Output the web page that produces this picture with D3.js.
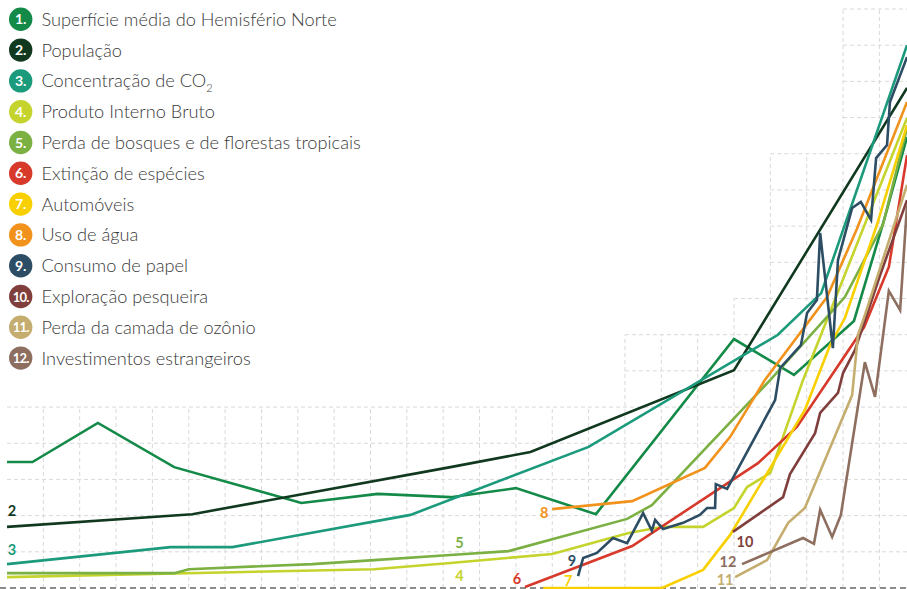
<!DOCTYPE html>
<html><head><meta charset="utf-8">
<script src="https://cdn.jsdelivr.net/npm/d3@7"></script>
<style>
body{margin:0;background:#fff;}
svg{display:block;font-family:Lato,"Noto Sans",sans-serif;}
</style></head><body>
<svg id="chart" width="907" height="589"></svg>
<script>
// ---- data (years, index values) ----
const seriesNames = [
  "Superfície média do Hemisfério Norte","População","Concentração de CO","Produto Interno Bruto",
  "Perda de bosques e de florestas tropicais","Extinção de espécies","Automóveis","Uso de água",
  "Consumo de papel","Exploração pesqueira","Perda da camada de ozônio","Investimentos estrangeiros"];
const seriesNumbers = ["1","2","3","4","5","6","7","8","9","10","11","12"];

const superficie = [[1750,34.8],[1757,34.8],[1775,45.6],[1796,33.4],[1831,23.5],[1852,26.0],[1872,25.1],[1890,27.6],[1912,20.4],[1950,68.8],[1966.5,58.9],[1983,73.8],[1991.3,101.7],[1997.6,124.6]];
const populacao = [[1750,16.9],[1801,20.4],[1872,33.4],[1894,37.6],[1950,60.2],[1997.6,138.2]];
const co2 = [[1750,6.6],[1795,11.3],[1812,11.3],[1861,20.2],[1910,39.0],[1962,69.9],[1974,81.5],[1997.6,150.0]];
const pib = [[1750,3.0],[1851,5.2],[1872,6.9],[1900,9.4],[1921,15.2],[1930.5,16.9],[1941.5,16.9],[1950,22.1],[1953.6,27.9],[1960,31.8],[1969,57.5],[1997.6,129.9]];
const florestas = [[1750,4.1],[1796,4.1],[1800,5.2],[1834,6.6],[1851,7.7],[1872,9.1],[1888,10.2],[1920.6,19.1],[1927.4,22.9],[1960,57.5],[1980.5,80.4],[1991,100.5],[1997.6,127.1]];
const extincao = [[1892.5,0.3],[1922,11.6],[1956.6,34.5],[1967.3,44.5],[1985.8,72.1],[1992.6,88.7],[1997.6,119.6]];
const automoveis = [[1897.5,0],[1930.2,0],[1941.5,5.0],[1948.9,14.6],[1969.5,49.2],[1976.4,67.1],[1980.5,74.6],[1989.3,100.3],[1997.6,127.9]];
const agua = [[1900,21.8],[1922,24.0],[1942,33.2],[1948.9,41.7],[1958.5,57.5],[1975.6,80.4],[1983.8,99.2],[1997.6,134.3]];
const papel = [[1907.1,3.3],[1908.5,8.3],[1912.3,9.7],[1916.7,13.8],[1920.6,12.4],[1925,20.7],[1927.4,15.8],[1928.3,18.8],[1930.5,16.3],[1936,18.0],[1940.6,20.2],[1942.6,22.1],[1944.8,22.1],[1945,28.7],[1948.1,27.4],[1961.3,51.9],[1962.7,60.8],[1968.4,67.1],[1970.1,76.0],[1972.8,79.6],[1973.7,98.1],[1977.2,66.3],[1978.6,90.6],[1982.5,105.0],[1984.9,106.7],[1987.7,101.7],[1989.1,118.8],[1992.1,122.4],[1992.9,134.3],[1997.6,146.7]];
const pesca = [[1949.7,15.5],[1963.5,25.1],[1965.4,31.5],[1972.3,42.8],[1973.7,48.4],[1978.6,53.9],[1980,59.4],[1983.3,65.8],[1990.2,86.5],[1997.6,107.2]];
const ozonio = [[1950.3,3.0],[1959.1,7.7],[1964.9,18.0],[1969.5,22.1],[1982.5,53.3],[1984.1,69.9],[1986.3,76.3],[1997.6,111.4]];
const investimentos = [[1952.2,6.6],[1969,13.8],[1972,12.2],[1973.7,21.6],[1977,14.1],[1979.4,20.2],[1986,62.4],[1988.8,52.8],[1992.6,82.1],[1995.7,76.8],[1997.6,105.8]];

const allSeries = [superficie,populacao,co2,pib,florestas,extincao,automoveis,agua,papel,pesca,ozonio,investimentos];

// grid: decade columns and the top (index units) of the grid in each column
const gridColumns = d3.range(1750, 2000, 10);
const gridTops = [50,50,50,50,50,50,50,50,50,50,50,50,50,50,50,50,50,70,70,70,80,120,120,160,160];

// ---- styles ----
const palette = ["#138a48","#11391f","#1b9a7c","#c5d42d","#7bb043","#d7392b","#f8d000","#f0921c","#2c4d63","#803f3d","#c4ad6e","#8d6e5f"];
// label anchor: year on series (null = first point) and pixel offset
const labelPlace = {
  1:{year:null,dx:5,dy:-16}, 2:{year:null,dx:5,dy:-15}, 3:{year:1872,dx:9,dy:12}, 4:{year:1872,dx:9,dy:-13},
  5:{year:null,dx:-8,dy:-8}, 6:{year:null,dx:25,dy:-8}, 7:{year:null,dx:-8,dy:3}, 8:{year:null,dx:-6,dy:-16},
  9:{year:null,dx:12,dy:10}, 11:{year:null,dx:-14,dy:-2.5}, 10:{year:null,dx:-10,dy:2}
};

const svg = d3.select("#chart");
const x = d3.scaleLinear().domain([1750,2000]).range([7,915.75]);
const y = d3.scaleLinear().domain([0,160]).range([588,9]);

// ---- grid ----
const grid = svg.append("g").attr("stroke","#d9d9d9").attr("stroke-width",1).attr("stroke-dasharray","4,3").attr("fill","none");
for (let k = 1; k <= gridColumns.length; k++) {
  const h = Math.max(gridTops[k-1], k < gridTops.length ? gridTops[k] : 0);
  const xv = x(1750 + 10*k);
  grid.append("line").attr("x1",xv).attr("x2",xv).attr("y1",y(0)).attr("y2",y(h));
}
for (let v = 10; v <= 160; v += 10) {
  let start = null;
  for (let i = 0; i <= gridColumns.length; i++) {
    const ok = i < gridColumns.length && gridTops[i] >= v;
    if (ok && start === null) start = i;
    if (!ok && start !== null) {
      grid.append("line").attr("x1",x(gridColumns[start])).attr("x2",x(1750+10*i)).attr("y1",y(v)).attr("y2",y(v));
      start = null;
    }
  }
}
// baseline
svg.append("line").attr("x1",0).attr("x2",907).attr("y1",y(0)).attr("y2",y(0))
  .attr("stroke","#8c8c8c").attr("stroke-width",2).attr("stroke-dasharray","6,4");

// ---- lines ----
const line = d3.line().x(d=>x(d[0])).y(d=>y(d[1]));
svg.append("g").selectAll("path").data(allSeries).join("path")
  .attr("d",line).attr("fill","none").attr("stroke",(d,i)=>palette[i])
  .attr("stroke-width",2.6).attr("stroke-linejoin","miter");

// ---- number labels on lines ----
function valueAt(s, yr){
  for (let i=1;i<s.length;i++){ if (s[i][0]>=yr){ const a=s[i-1],b=s[i]; return a[1]+(b[1]-a[1])*(yr-a[0])/(b[0]-a[0]); } }
  return s[s.length-1][1];
}
Object.entries(labelPlace).forEach(([idx,p])=>{
  const i=+idx, s=allSeries[i];
  const yr = p.year===null ? s[0][0] : p.year;
  const v = p.year===null ? s[0][1] : valueAt(s,yr);
  svg.append("text").attr("x",x(yr)+p.dx).attr("y",y(v)+p.dy)
    .attr("text-anchor","middle").attr("dominant-baseline","central")
    .attr("font-size",14.5).attr("font-weight",700).attr("fill",palette[i]).text(seriesNumbers[i]);
});

// ---- legend ----
const leg = svg.append("g");
seriesNames.forEach((name,i)=>{
  const cy = 19.3 + i*30.8;
  leg.append("circle").attr("cx",20.7).attr("cy",cy).attr("r",11.7).attr("fill",palette[i]);
  leg.append("text").attr("x",20.7).attr("y",cy+5).attr("text-anchor","middle")
    .attr("font-size",seriesNumbers[i].length>1?13:14).attr("font-weight",700).attr("fill","#fff")
    .attr("letter-spacing",seriesNumbers[i].length>1?-0.8:0).text(seriesNumbers[i]+".");
  const t = leg.append("text").attr("x",41.5).attr("y",cy+6.5).attr("font-size",18.2).attr("font-weight",300).attr("fill","#3a3a3a").text(name);
  if (i===2) t.append("tspan").attr("font-size",11).attr("dy",5).text("2");
});
</script>
</body></html>
